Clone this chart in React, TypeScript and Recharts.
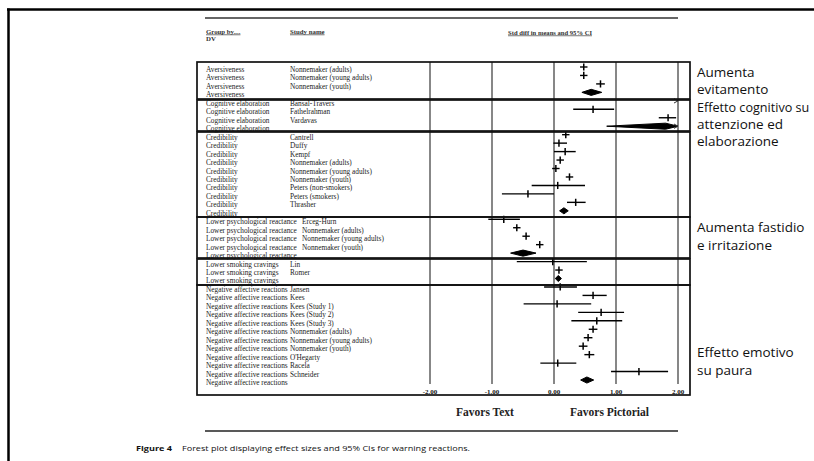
import React from 'react';
import { ComposedChart, Scatter, ErrorBar, Area, XAxis, YAxis, CartesianGrid } from 'recharts';

type Study = [string, number, number, number]; // name, lower, mean, upper

const groupNames = [
  'Aversiveness',
  'Cognitive elaboration',
  'Credibility',
  'Lower psychological reactance',
  'Lower smoking cravings',
  'Negative affective reactions',
];

const aversiveness: Study[] = [
  ['Nonnemaker (adults)', 0.42, 0.48, 0.54],
  ['Nonnemaker (young adults)', 0.42, 0.48, 0.54],
  ['Nonnemaker (youth)', 0.68, 0.75, 0.82],
];
const aversivenessPooled = [0.45, 0.6, 0.77];

const cognitive: Study[] = [
  ['Bansal-Travers', 2.3, 2.8, 3.3],
  ['Fathelrahman', 0.31, 0.63, 0.97],
  ['Vardavas', 1.69, 1.84, 1.97],
];
const cognitivePooled = [0.85, 1.8, 2.7];

const credibility: Study[] = [
  ['Cantrell', 0.13, 0.19, 0.25],
  ['Duffy', -0.01, 0.08, 0.21],
  ['Kempf', 0.0, 0.18, 0.35],
  ['Nonnemaker (adults)', 0.04, 0.1, 0.16],
  ['Nonnemaker (young adults)', -0.03, 0.03, 0.09],
  ['Nonnemaker (youth)', 0.19, 0.25, 0.31],
  ['Peters (non-smokers)', -0.36, 0.06, 0.5],
  ['Peters (smokers)', -0.84, -0.42, 0.0],
  ['Thrasher', 0.21, 0.35, 0.51],
];
const credibilityPooled = [0.09, 0.16, 0.23];

const reactance: Study[] = [
  ['Erceg-Hurn', -1.06, -0.81, -0.55],
  ['Nonnemaker (adults)', -0.66, -0.6, -0.54],
  ['Nonnemaker (young adults)', -0.51, -0.45, -0.39],
  ['Nonnemaker (youth)', -0.29, -0.23, -0.17],
];
const reactancePooled = [-0.7, -0.5, -0.29];

const cravings: Study[] = [
  ['Lin', -0.6, -0.02, 0.53],
  ['Romer', 0.02, 0.08, 0.14],
];
const cravingsPooled = [0.02, 0.07, 0.12];

const negative: Study[] = [
  ['Jansen', -0.16, 0.1, 0.37],
  ['Kees', 0.46, 0.63, 0.85],
  ['Kees (Study 1)', -0.49, 0.05, 0.6],
  ['Kees (Study 2)', 0.39, 0.76, 1.13],
  ['Kees (Study 3)', 0.28, 0.69, 1.1],
  ['Nonnemaker (adults)', 0.56, 0.63, 0.7],
  ['Nonnemaker (young adults)', 0.48, 0.55, 0.62],
  ['Nonnemaker (youth)', 0.4, 0.47, 0.54],
  ["O'Hegarty", 0.49, 0.57, 0.65],
  ['Racela', -0.22, 0.06, 0.36],
  ['Schneider', 0.92, 1.37, 1.84],
];
const negativePooled = [0.43, 0.53, 0.64];

const xTicks = [-2, -1, 0, 1, 2];

const groupStudies = [aversiveness, cognitive, credibility, reactance, cravings, negative];
const groupPooled = [aversivenessPooled, cognitivePooled, credibilityPooled, reactancePooled, cravingsPooled, negativePooled];

const X_MAX = 2;

// build rows
const rowLabels: { group: string; study: string }[] = [];
const studyPoints: { x: number; y: number; err: [number, number] }[] = [];
const arrowPoints: { x: number; y: number }[] = [];
const diamonds: { y: number; r: [number, number] }[][] = [];

groupNames.forEach((g, gi) => {
  groupStudies[gi].forEach(([name, lo, mean, hi]) => {
    const row = rowLabels.length;
    rowLabels.push({ group: g, study: name });
    if (mean > X_MAX) {
      arrowPoints.push({ x: X_MAX, y: row });
    } else {
      studyPoints.push({ x: mean, y: row, err: [mean - lo, Math.min(hi, X_MAX) - mean] });
    }
  });
  const [lo, mean, hi] = groupPooled[gi];
  const row = rowLabels.length;
  rowLabels.push({ group: g, study: '' });
  const h = 0.36;
  diamonds.push([
    { y: row - h, r: [mean, mean] },
    { y: row, r: [lo, Math.min(hi, X_MAX)] },
    { y: row + h, r: [mean, mean] },
  ]);
  if (hi > X_MAX) arrowPoints.push({ x: X_MAX, y: row });
});

const rowIndices = rowLabels.map((_, i) => i);

const SERIF = '"Liberation Serif", "Times New Roman", serif';
const SANS = '"Open Sans", "Noto Sans", sans-serif';

const RowTick = (props: any) => {
  const { y, payload } = props;
  const r = rowLabels[payload.value];
  if (!r) return null;
  const studyX = r.group.startsWith('Lower psychological') ? 302 : 290;
  return (
    <g>
      <text x={206} y={y + 2.5} dominantBaseline="central" fontFamily={SERIF} fontSize={7.3} fill="#222">
        {r.group}
      </text>
      {r.study ? (
        <text x={studyX} y={y + 2.5} dominantBaseline="central" fontFamily={SERIF} fontSize={7.3} fill="#222">
          {r.study}
        </text>
      ) : null}
    </g>
  );
};

const XTick = (props: any) => {
  const { x, y, payload } = props;
  return (
    <text x={x} y={y} textAnchor="middle" dominantBaseline="central" fontFamily={SERIF} fontWeight="bold" fontSize={7} fill="#111">
      {Number(payload.value).toFixed(2)}
    </text>
  );
};

const TickShape = (props: any) => {
  const { cx, cy } = props;
  return <line x1={cx} x2={cx} y1={cy - 3.6} y2={cy + 3.6} stroke="#000" strokeWidth={1.5} />;
};

const ArrowShape = (props: any) => {
  const { cx, cy } = props;
  return (
    <path d={`M${cx - 4},${cy - 2.2} L${cx},${cy} L${cx - 4},${cy + 2.2}`} stroke="#333" strokeWidth={1} fill="none" />
  );
};

const boxes = [
  [62, 99],
  [100, 131],
  [132, 217],
  [217, 258],
  [259, 285],
  [285, 395],
];

const annotations: [string, number][] = [
  ['Aumenta', 72],
  ['evitamento', 89],
  ['Effetto cognitivo su', 107],
  ['attenzione ed', 124],
  ['elaborazione', 141],
  ['Aumenta fastidio', 227],
  ['e irritazione', 245],
  ['Effetto emotivo', 352],
  ['su paura', 370],
];

export default function App() {
  return (
    <div style={{ position: 'absolute', left: 0, top: 0, width: 814, height: 461, background: '#fff', overflow: 'hidden' }}>
      <ComposedChart
        width={814}
        height={461}
        layout="vertical"
        margin={{ top: 62, right: 136, bottom: 57, left: 0 }}
      >
        <CartesianGrid horizontal={false} stroke="#7a7a7a" strokeWidth={1.8} />
        <XAxis
          type="number"
          dataKey="x"
          domain={[-2, 2]}
          ticks={xTicks}
          interval={0}
          allowDataOverflow
          axisLine={false}
          tickLine={false}
          height={20}
          tick={<XTick />}
        />
        <YAxis
          type="number"
          dataKey="y"
          domain={[-0.59, 37.47]}
          ticks={rowIndices}
          interval={0}
          allowDataOverflow
          width={430}
          axisLine={false}
          tickLine={false}
          tick={<RowTick />}
        />
        {diamonds.map((d, i) => (
          <Area
            key={'d' + i}
            data={d}
            dataKey="r"
            type="linear"
            stroke="#000"
            strokeWidth={1}
            fill="#000"
            fillOpacity={1}
            dot={false}
            activeDot={false}
            isAnimationActive={false}
          />
        ))}
        <Scatter data={studyPoints} shape={<TickShape />} isAnimationActive={false}>
          <ErrorBar dataKey="err" direction="x" width={0} stroke="#000" strokeWidth={1.4} isAnimationActive={false} />
        </Scatter>
        <Scatter data={arrowPoints} shape={<ArrowShape />} isAnimationActive={false} />
      </ComposedChart>
      <svg width={814} height={461} style={{ position: 'absolute', left: 0, top: 0, pointerEvents: 'none' }}>
        <line x1={7} y1={9.5} x2={814} y2={9.5} stroke="#000" strokeWidth={2.5} />
        <line x1={8.5} y1={8.5} x2={8.5} y2={461} stroke="#000" strokeWidth={2.5} />
        <line x1={205} y1={18} x2={678} y2={18} stroke="#333" strokeWidth={1.5} />
        <line x1={205} y1={431} x2={678} y2={431} stroke="#222" strokeWidth={1.5} />
        <text x={206} y={31} dominantBaseline="central" fontFamily={SERIF} fontWeight="bold" fontSize={6.8} fill="#333" textDecoration="underline">
          Group by....
        </text>
        <text x={206} y={38} dominantBaseline="central" fontFamily={SERIF} fontWeight="bold" fontSize={6.8} fill="#333">
          DV
        </text>
        <text x={290} y={31} dominantBaseline="central" fontFamily={SERIF} fontWeight="bold" fontSize={6.8} fill="#333" textDecoration="underline">
          Study name
        </text>
        <text x={550} y={32} textAnchor="middle" dominantBaseline="central" fontFamily={SERIF} fontWeight="bold" fontSize={6.6} fill="#333" textDecoration="underline">
          Std diff in means and 95% CI
        </text>
        {boxes.map(([t, b], i) => (
          <rect key={'b' + i} x={197} y={t} width={493} height={b - t} fill="none" stroke="#111" strokeWidth={1.7} />
        ))}
        <text x={456} y={412} dominantBaseline="central" fontFamily={SERIF} fontWeight="bold" fontSize={11.5} fill="#222">
          Favors Text
        </text>
        <text x={570} y={412} dominantBaseline="central" fontFamily={SERIF} fontWeight="bold" fontSize={11.5} fill="#222">
          Favors Pictorial
        </text>
        <text x={136} y={448} dominantBaseline="central" fontFamily={SANS} fontWeight="bold" fontSize={7.6} fill="#111" textLength={36} lengthAdjust="spacingAndGlyphs">
          Figure 4
        </text>
        <text x={182} y={448} dominantBaseline="central" fontFamily={SANS} fontSize={7.6} fill="#111" textLength={288} lengthAdjust="spacingAndGlyphs">
          Forest plot displaying effect sizes and 95% CIs for warning reactions.
        </text>
        {annotations.map(([t, y], i) => (
          <text key={'a' + i} x={697} y={y} dominantBaseline="central" fontFamily={SANS} fontSize={t.length > 16 ? 12.6 : 13.5} fill="#111">
            {t}
          </text>
        ))}
      </svg>
    </div>
  );
}
